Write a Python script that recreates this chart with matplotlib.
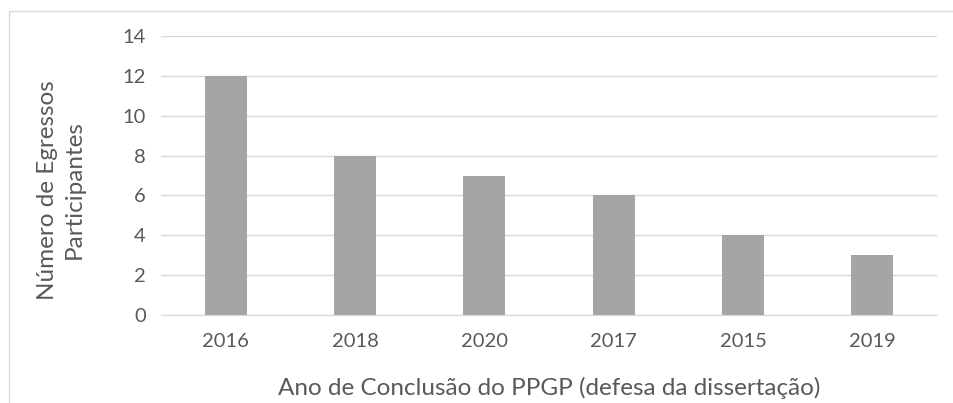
import matplotlib
matplotlib.use("Agg")
import matplotlib.pyplot as plt
from matplotlib.patches import Rectangle

categories = ["2016", "2018", "2020", "2017", "2015", "2019"]
values = [12, 8, 7, 6, 4, 3]
yticks = [0, 2, 4, 6, 8, 10, 12, 14]

plt.rcParams['font.family'] = ['Lato', 'DejaVu Sans']
W, H = 954, 403
fig = plt.figure(figsize=(W/100, H/100), dpi=100)
fig.patches.append(Rectangle((9/W, -0.1), (W+20)/W, (H-11)/H + 0.1, transform=fig.transFigure,
                             fill=False, edgecolor='#D9D9D9', linewidth=1.0))
ax = fig.add_axes([161/W, 1 - 315/H, (937-161)/W, (315-36)/H])
x = range(len(categories))
ax.bar(x, values, width=0.325, color='#A5A5A5', zorder=3)
ax.set_xlim(-0.5, len(categories) - 0.5)
ax.set_ylim(0, 14)
ax.set_yticks(yticks)
ax.set_xticks(list(x))
ax.set_xticklabels(categories)
ax.grid(axis='y', color='#D9D9D9', linewidth=1.0, zorder=0)
for s in ['top', 'right', 'left']:
    ax.spines[s].set_visible(False)
ax.spines['bottom'].set_color('#D9D9D9')
ax.tick_params(axis='both', length=0, labelsize=14.5, colors='#595959')
ax.tick_params(axis='x', pad=13)
ax.tick_params(axis='y', pad=11)
ax.set_xlabel("Ano de Conclusão do PPGP (defesa da dissertação)", fontsize=17.5, color='#595959', va='center')
ax.xaxis.set_label_coords(0.5, (315-388)/279)
ax.set_ylabel("Número de Egressos\nParticipantes", fontsize=17.5, color='#595959', va='center',
              linespacing=1.3)
ax.yaxis.set_label_coords((61-161)/776, (315-190)/279)
fig.savefig("out.png", dpi=100)
